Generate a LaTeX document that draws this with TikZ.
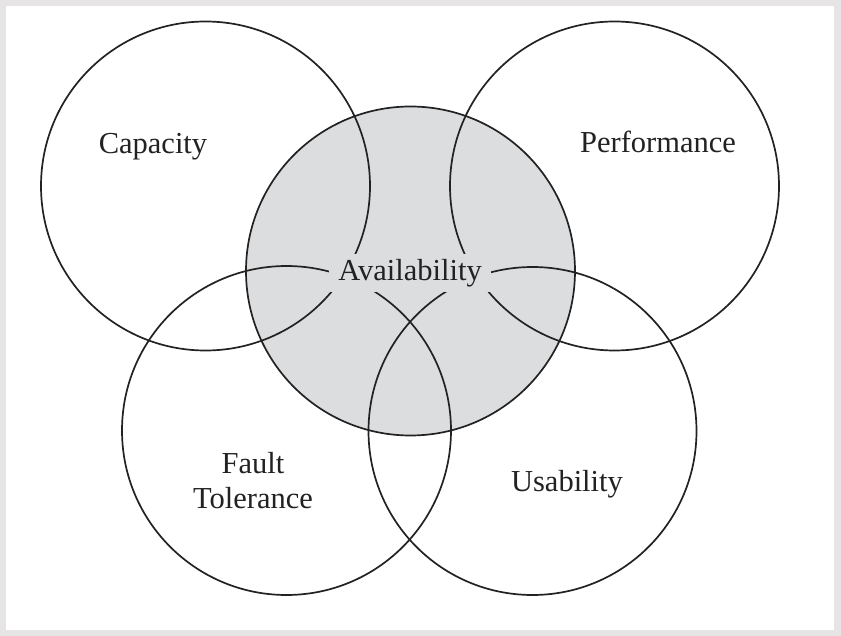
\documentclass[tikz,border=0pt]{standalone}
\usepackage{fontspec}
\setmainfont{Liberation Serif}
\definecolor{framegray}{HTML}{E6E4E4}
\definecolor{availgray}{HTML}{DCDDDF}
\definecolor{inkc}{HTML}{222222}
\begin{document}
\begin{tikzpicture}[x=1pt,y=-1pt,
  ring/.style={draw=inkc,line width=1.7pt},
  lbl/.style={text=inkc,font=\fontsize{30.5}{35}\selectfont,align=center,inner sep=0pt}]
\fill[framegray] (0,0) rectangle (841,636);
\fill[white] (6,6) rectangle (834,630);
\useasboundingbox (0,0) rectangle (841,636);
\fill[availgray] (410.5,271) circle[radius=164.5];
\draw[ring] (205.5,186) circle[radius=164.5];
\draw[ring] (614.5,186) circle[radius=164.5];
\draw[ring] (410.5,271) circle[radius=164.5];
\draw[ring] (286.5,430.5) circle[radius=164.5];
\draw[ring] (532.5,431) circle[radius=164];
\node[lbl] (cap) at (153,147) {Capacity};
\node[lbl] (perf) at (658,142) {Performance};
\node[lbl,fill=availgray,inner xsep=9pt,inner ysep=5pt] (avail) at (410,273) {Availability};
\node[lbl] (fault) at (253,481) {Fault\\Tolerance};
\node[lbl] (usab) at (567,484) {Usability};
\end{tikzpicture}
\end{document}
